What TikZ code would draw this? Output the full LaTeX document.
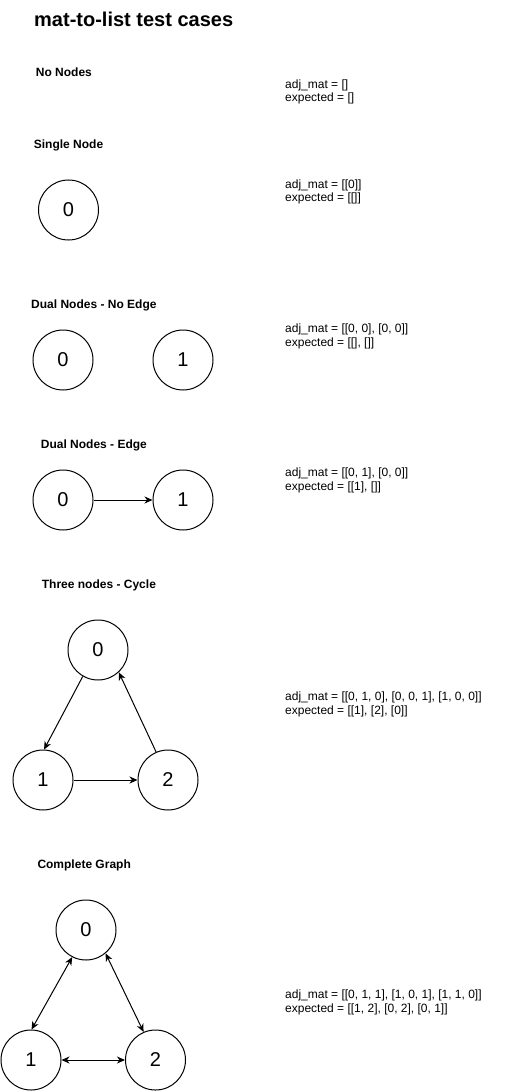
\documentclass[tikz,border=0pt]{standalone}
\usepackage{fontspec}
\setmainfont{Liberation Sans}
\usetikzlibrary{arrows.meta}
\begin{document}
\begin{tikzpicture}[x=1pt,y=-1pt,
  vtx/.style={draw, circle, line width=1pt, inner sep=0pt, minimum size=60pt, font=\fontsize{20}{24}\selectfont},
  ttl/.style={anchor=base west, inner sep=0pt, font=\fontsize{20}{24}\selectfont\bfseries},
  lbl/.style={anchor=base west, inner sep=0pt, font=\fontsize{12}{14}\selectfont\bfseries},
  txt/.style={anchor=base west, inner sep=0pt, font=\fontsize{12}{14}\selectfont},
  edge/.style={line width=1pt, -{Stealth[length=8pt,width=7pt,inset=2.5pt]}},
  bedge/.style={line width=1pt, {Stealth[length=8pt,width=7pt,inset=2.5pt]}-{Stealth[length=8pt,width=7pt,inset=2.5pt]}}
]
\fill[white] (0,0) rectangle (513,1091);
\useasboundingbox (0,0) rectangle (513,1091);

\node[ttl] (title) at (34,26.7) {mat-to-list test cases};

% No nodes
\node[lbl] (l1) at (35.7,76.7) {No Nodes};
\node[txt] (a1) at (285,88.3) {adj\_mat = []};
\node[txt] (e1) at (285,101.9) {expected = []};

% Single node
\node[lbl] (l2) at (33.7,148.3) {Single Node};
\node[vtx] (s0) at (68.5,210) {0};
\node[txt] (a2) at (285,188.3) {adj\_mat = [[0]]};
\node[txt] (e2) at (285,201.9) {expected = [[]]};

% Dual nodes - no edge
\node[lbl] (l3) at (31,308.3) {Dual Nodes - No Edge};
\node[vtx] (d0) at (63,360) {0};
\node[vtx] (d1) at (183,360) {1};
\node[txt] (a3) at (285,332.5) {adj\_mat = [[0, 0], [0, 0]]};
\node[txt] (e3) at (285,346.1) {expected = [[], []]};

% Dual nodes - edge
\node[lbl] (l4) at (40.7,448) {Dual Nodes - Edge};
\node[vtx] (f0) at (63,500) {0};
\node[vtx] (f1) at (183,500) {1};
\draw[edge] (f0) -- (f1);
\node[txt] (a4) at (285,476.7) {adj\_mat = [[0, 1], [0, 0]]};
\node[txt] (e4) at (285,490.5) {expected = [[1], []]};

% Three nodes - cycle
\node[lbl] (l5) at (41.7,588) {Three nodes - Cycle};
\node[vtx] (c0) at (98,650) {0};
\node[vtx] (c1) at (43,780) {1};
\node[vtx] (c2) at (168,780) {2};
\draw[edge] (c0.240) -- (c1.88);
\draw[edge] (c1) -- (c2);
\draw[edge] (c2.113) -- (c0.313);
\node[txt] (a5) at (285,700) {adj\_mat = [[0, 1, 0], [0, 0, 1], [1, 0, 0]]};
\node[txt] (e5) at (285,714) {expected = [[1], [2], [0]]};

% Complete graph
\node[lbl] (l6) at (37.3,868) {Complete Graph};
\node[vtx] (k0) at (86,930) {0};
\node[vtx] (k1) at (31,1060) {1};
\node[vtx] (k2) at (155.5,1060) {2};
\draw[bedge] (k0.243) -- (k1.89);
\draw[bedge] (k0.310) -- (k2.113);
\draw[bedge] (k1) -- (k2);
\node[txt] (a6) at (285,998) {adj\_mat = [[0, 1, 1], [1, 0, 1], [1, 1, 0]]};
\node[txt] (e6) at (285,1012) {expected = [[1, 2], [0, 2], [0, 1]]};
\end{tikzpicture}
\end{document}
